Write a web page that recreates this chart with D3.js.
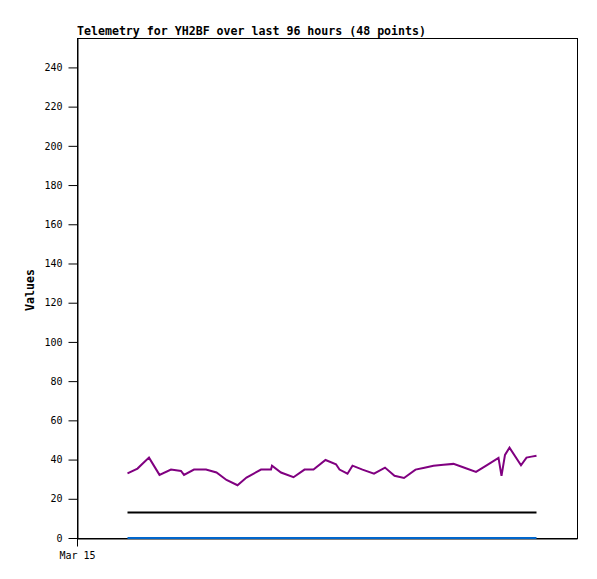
<!DOCTYPE html>
<html>
<head>
<meta charset="utf-8">
<script src="https://cdn.jsdelivr.net/npm/d3@7"></script>
<style>
  body { margin: 0; background: #fff; }
  svg { display: block; }
</style>
</head>
<body>
<div id="chart"></div>
<script>
// hours after Mar 15 00:00 for each sample
var hours = [10.1, 12.1, 13.2, 14.4, 16.5, 18.8, 20.8, 21.4, 23.4, 24.6, 25.8, 27.9,
             29.9, 32.1, 33.9, 36.8, 38.8, 39.0, 40.8, 43.3, 45.5, 47.3, 49.7, 51.8,
             52.5, 54.1, 55.1, 57.1, 59.4, 61.6, 63.5, 65.4, 67.7, 69.5, 71.3, 73.3,
             75.3, 77.5, 79.8, 82.0, 84.3, 84.9, 85.6, 86.5, 88.8, 89.9, 90.9, 91.9];
var purple = [33.0, 35.4, 38.1, 41.0, 32.2, 34.9, 34.2, 32.2, 34.9, 34.9, 34.9, 33.4,
              29.6, 26.9, 30.8, 34.9, 34.9, 36.9, 33.4, 31.0, 34.9, 34.9, 39.8, 37.6,
              34.9, 32.8, 36.9, 34.9, 32.8, 35.9, 31.7, 30.6, 34.9, 35.8, 36.8, 37.3,
              37.8, 35.8, 33.7, 37.2, 40.9, 31.7, 42.4, 46.1, 37.1, 41.0, 41.5, 42.0];
var black = [13, 13, 13, 13, 13, 13, 13, 13, 13, 13, 13, 13,
             13, 13, 13, 13, 13, 13, 13, 13, 13, 13, 13, 13,
             13, 13, 13, 13, 13, 13, 13, 13, 13, 13, 13, 13,
             13, 13, 13, 13, 13, 13, 13, 13, 13, 13, 13, 13];
var blue = [0, 0, 0, 0, 0, 0, 0, 0, 0, 0, 0, 0,
            0, 0, 0, 0, 0, 0, 0, 0, 0, 0, 0, 0,
            0, 0, 0, 0, 0, 0, 0, 0, 0, 0, 0, 0,
            0, 0, 0, 0, 0, 0, 0, 0, 0, 0, 0, 0];
var yTicks = [0, 20, 40, 60, 80, 100, 120, 140, 160, 180, 200, 220, 240];
var title = "Telemetry for YH2BF over last 96 hours (48 points)";

var margin = {top: 38, right: 20, bottom: 41, left: 77},
    width = 597 - margin.left - margin.right,
    height = 579 - margin.top - margin.bottom;

var start = new Date(2024, 2, 15, 0, 0);
function toDate(h) { return new Date(start.getTime() + h * 3600000); }

var x = d3.scaleTime()
    .domain([start, toDate(100)])
    .range([0, width]);
var y = d3.scaleLinear()
    .domain([0, 255])
    .range([height, 0]);

var svg = d3.select("#chart").append("svg")
    .attr("width", 597)
    .attr("height", 579);

var g = svg.append("g")
    .attr("transform", "translate(" + margin.left + "," + margin.top + ")");

g.append("rect")
    .attr("x", 0.5).attr("y", 0.5)
    .attr("width", width).attr("height", height)
    .attr("fill", "none")
    .attr("stroke", "#000");

var mono = "'DejaVu Sans Mono', 'Liberation Mono', monospace";

var yAxis = g.append("g")
    .attr("transform", "translate(0.5,0)")
    .call(d3.axisLeft(y).tickValues(yTicks).tickSize(9).tickPadding(6).tickSizeOuter(0));
var xAxis = g.append("g")
    .attr("transform", "translate(0," + (height + 0.5) + ")")
    .call(d3.axisBottom(x).tickValues([start]).tickFormat(d3.timeFormat("%b %d")).tickSize(8).tickPadding(5).tickSizeOuter(0));

[yAxis, xAxis].forEach(function(a) {
  a.selectAll("text").style("font-family", mono).style("font-size", "10px").attr("fill", "#000");
  a.selectAll("line").attr("stroke", "#000");
  a.select(".domain").attr("stroke", "#000");
});

var line = d3.line()
    .x(function(d, i) { return x(toDate(hours[i])); })
    .y(function(d) { return y(d); });

[[blue, "#0066cc"], [black, "#000"], [purple, "#800080"]].forEach(function(s) {
  g.append("path")
      .datum(s[0])
      .attr("d", line)
      .attr("fill", "none")
      .attr("stroke", s[1])
      .attr("stroke-width", 2);
});

svg.append("text")
    .attr("x", margin.left)
    .attr("y", 35)
    .style("font-family", mono)
    .style("font-weight", "bold")
    .style("font-size", "11.6px")
    .text(title);

svg.append("text")
    .attr("transform", "translate(34,290) rotate(-90)")
    .attr("text-anchor", "middle")
    .style("font-family", mono)
    .style("font-weight", "bold")
    .style("font-size", "11.6px")
    .text("Values");
</script>
</body>
</html>
